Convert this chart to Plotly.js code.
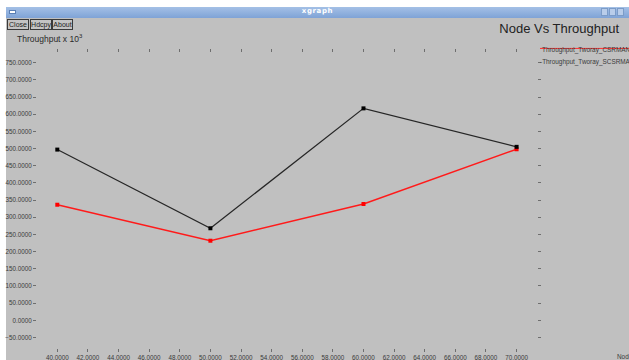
<!DOCTYPE html>
<html>
<head>
<meta charset="utf-8">
<script src="https://cdn.plot.ly/plotly-3.0.1.min.js"></script>
<style>
  html, body { margin: 0; padding: 0; background: #ffffff; }
  #frame { position: relative; width: 629px; height: 360px; overflow: hidden; background: #ffffff; }
  #win { position: absolute; left: 6px; top: 7px; width: 623px; height: 353px; background: #c0c0c0; }
  #titlebar { position: absolute; left: 0; top: 0; width: 100%; height: 11px;
              background: linear-gradient(#a4c0e6, #7fa3d6); }
  #titlebar .name { position: absolute; left: 0; width: 100%; top: 0; line-height: 11px; text-align: center;
                    font: bold 7px "DejaVu Sans", sans-serif; color: #ffffff; letter-spacing: 0.6px; }
  #titlebar .icon { position: absolute; left: 3px; top: 3px; width: 7px; height: 4px; background: #ffffff; border: 1px solid #5a7fb5; box-sizing: border-box; }
  #titlebar .wbtn { position: absolute; top: 1px; width: 7px; height: 8px; background: #b9cdea; border: 1px solid #7c9cc8; box-sizing: border-box; }
  .btn { position: absolute; top: 12px; height: 11px; border: 1px solid #3a3a3a; box-sizing: border-box;
         font: 7px "Liberation Sans", sans-serif; color: #222; line-height: 9px; text-align: center; background: #c4c4c4; }
  #plot { position: absolute; left: 0; top: 0; width: 629px; height: 360px; }
</style>
</head>
<body>
<div id="frame">
  <div id="win">
    <div id="titlebar">
      <div class="icon"></div>
      <div class="name">xgraph</div>
      <div class="wbtn" style="right:21px"></div>
      <div class="wbtn" style="right:13px"></div>
      <div class="wbtn" style="right:5px"></div>
    </div>
    <div class="btn" style="left:1px;width:22px">Close</div>
    <div class="btn" style="left:24px;width:22px">Hdcpy</div>
    <div class="btn" style="left:46px;width:21px">About</div>
  </div>
  <div id="plot"></div>
</div>
<script>
// Node counts on the x axis
const nodes = [40, 50, 60, 70];
// Throughput (x 10^3) for each routing/MAC variant
const throughputCSRMAN = [336.5, 231.7, 338.6, 498];
const throughputSCSRMA = [497, 268, 617, 505];
// Series names as shown in the key
const seriesNames = ["Throughput_Tworay_CSRMAN", "Throughput_Tworay_SCSRMA"];
const chartTitle = "Node Vs Throughput";
const yTitle = "Throughput x 10<sup>3</sup>";
const xTitle = "Node";

const labelFont = { family: "Liberation Sans, Arial, sans-serif", size: 6.3, color: "#3a3a3a" };
const keyFont = { family: "Liberation Sans, Arial, sans-serif", size: 6.4, color: "#3a3a3a" };

const traces = [
  {
    x: nodes, y: throughputCSRMAN, name: seriesNames[0], type: "scatter", mode: "lines+markers",
    line: { color: "#ff1a1a", width: 1.4 }, marker: { color: "#ff0000", size: 4, symbol: "square" },
    cliponaxis: false
  },
  {
    x: nodes, y: throughputSCSRMA, name: seriesNames[1], type: "scatter", mode: "lines+markers",
    line: { color: "#262626", width: 1.2 }, marker: { color: "#000000", size: 4, symbol: "square" },
    cliponaxis: false
  }
];

const layout = {
  width: 629, height: 360,
  margin: { l: 37, r: 92, t: 53, b: 12, pad: 0 },
  paper_bgcolor: "rgba(0,0,0,0)",
  plot_bgcolor: "rgba(0,0,0,0)",
  showlegend: false,
  title: {
    text: chartTitle, xref: "container", yref: "container",
    x: 0.889, y: 0.922, xanchor: "center", yanchor: "middle",
    font: { family: "Liberation Sans, Arial, sans-serif", size: 13, color: "#222222" }
  },
  xaxis: {
    range: [38.674, 71.333], dtick: 2, tick0: 40, tickformat: ".4f",
    showgrid: false, zeroline: false, showline: false,
    ticks: "outside", ticklen: 3, tickwidth: 1, tickcolor: "#6e6e6e", mirror: "ticks",
    tickfont: labelFont, ticklabelstandoff: 0
  },
  yaxis: {
    range: [-80.6, 778.2], dtick: 50, tick0: 0, tickformat: ".4f",
    showgrid: false, zeroline: false, showline: false,
    ticks: "outside", ticklen: 3, tickwidth: 1, tickcolor: "#6e6e6e", mirror: "ticks",
    tickfont: labelFont, ticklabelstandoff: 0
  },
  annotations: [
    { text: yTitle, xref: "paper", yref: "paper", x: -0.044, y: 1.05, xanchor: "left", yanchor: "middle",
      showarrow: false, font: { family: "Liberation Sans, Arial, sans-serif", size: 8.5, color: "#2a2a2a" } },
    { text: xTitle, xref: "paper", yref: "paper", x: 1.156, y: -0.028, xanchor: "left", yanchor: "middle",
      showarrow: false, font: keyFont },
    { text: seriesNames[0], xref: "paper", yref: "paper", x: 1.005, y: 1.01, xanchor: "left", yanchor: "middle",
      showarrow: false, font: keyFont },
    { text: "-" + seriesNames[1], xref: "paper", yref: "paper", x: 1.001, y: 0.97, xanchor: "left", yanchor: "middle",
      showarrow: false, font: keyFont }
  ],
  shapes: [
    { type: "line", xref: "paper", yref: "paper", x0: 1.006, x1: 1.2, y0: 1.0155, y1: 1.0155,
      line: { color: "#ff3030", width: 1 } }
  ]
};

Plotly.newPlot("plot", traces, layout, { staticPlot: true, displayModeBar: false });
</script>
</body>
</html>
